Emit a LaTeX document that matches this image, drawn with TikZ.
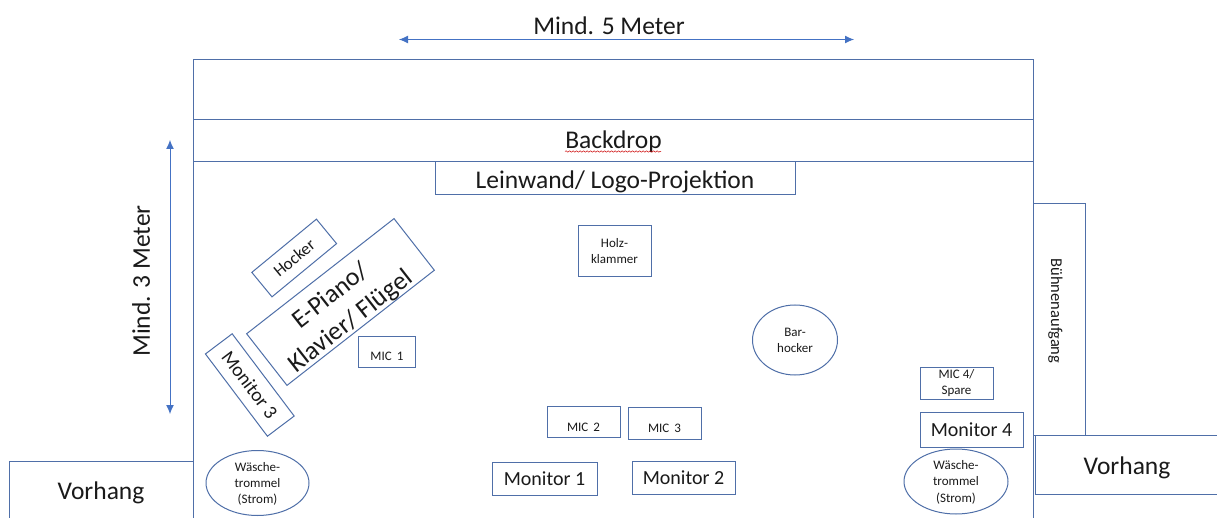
\documentclass[tikz,border=0pt]{standalone}
\usepackage{fontspec}
\setmainfont{Carlito}
\usetikzlibrary{shapes.geometric,arrows.meta,decorations.pathmorphing}
\definecolor{lineblue}{HTML}{4F6FA8}
\definecolor{arrowblue}{HTML}{4472C4}
\definecolor{inktext}{HTML}{1A1A1A}
\newcommand{\fsz}[1]{\fontsize{#1}{#1}\selectfont}
\newcommand{\dropped}[2]{\raisebox{-#1pt}[\height][\depth]{#2}}
\newcommand{\trommel}{\dropped{2}{\begin{tabular}{@{}c@{}}Wäsche-\\[3pt]trommel\\[3pt](Strom)\end{tabular}}}
\tikzset{
  x=1pt,y=-1pt,
  box/.style={draw=lineblue,line width=1pt,rectangle,inner sep=0pt,outer sep=0pt,align=center,text=inktext},
  oval/.style={draw=lineblue,line width=1pt,ellipse,inner sep=0pt,outer sep=0pt,align=center,text=inktext},
  edge line/.style={draw=lineblue,line width=1pt},
  span/.style={draw=arrowblue,line width=1pt,{Latex[length=9pt,width=8pt]}-{Latex[length=9pt,width=8pt]}},
  plain/.style={inner sep=0pt,text=inktext,align=center},
  big/.style={font=\fsz{25.5}},
  mid/.style={font=\fsz{20}},
  small/.style={font=\fsz{13}},
}
\begin{document}
\begin{tikzpicture}
\useasboundingbox[fill=white] (0,0) rectangle (1217,518);
% stage
\node[box,minimum width=840pt,minimum height=60pt] (top) at (613.5,89.5) {};
\node[box,minimum width=840pt,minimum height=42pt,big] (backdrop) at (613.5,140.5) {\dropped{1.5}{Backdrop}};
\draw[red!80!black,line width=.5pt,decorate,decoration={snake,amplitude=.7pt,segment length=3.5pt}] (565,151.5) -- (661,151.5);
\coordinate (sl) at (193.5,518);
\coordinate (sr) at (1033.5,518);
\draw[edge line] (backdrop.south west) -- (sl);
\draw[edge line] (backdrop.south east) -- (sr);
\node[box,minimum width=360pt,minimum height=33pt,big] (leinwand) at (615,178.5) {\dropped{3}{Leinwand/ Logo-Projektion}};
% side
\node[box,minimum width=52pt,minimum height=232pt] (aufgang) at (1059.5,319.5) {};
\node[plain,rotate=-90,font=\fsz{16.5}] (aufgangtext) at (1055.5,311) {Bühnenaufgang};
\coordinate (vla) at (9,518);
\coordinate (vlb) at (9,461.5);
\coordinate (vlc) at (193.5,461.5);
\draw[edge line] (vla) -- (vlb) -- (vlc);
\node[plain,big] (vl) at (101,493) {Vorhang};
\coordinate (vra) at (1217,435.5);
\coordinate (vrb) at (1035.5,435.5);
\coordinate (vrc) at (1035.5,494.5);
\coordinate (vrd) at (1217,494.5);
\draw[edge line,fill=white] (vra) -- (vrb) -- (vrc) -- (vrd);
\node[plain,big] (vr) at (1127,467.5) {Vorhang};
% dimension arrows
\coordinate (wl) at (399,39.5);
\coordinate (wr) at (854,39.5);
\draw[span] (wl) -- (wr);
\node[plain,big] (wt) at (609,26) {Mind. 5 Meter};
\coordinate (ht) at (170,140);
\coordinate (hb) at (170,414);
\draw[span] (ht) -- (hb);
\node[plain,rotate=90,big] (htx) at (141,281) {Mind. 3 Meter};
% rotated
\node[box,rotate=38,minimum width=187pt,minimum height=65.5pt] (piano) at (340.5,302) {};
\node[plain,rotate=38,font=\fsz{26}] (pianotext) at (341,309) {E-Piano/\\[6pt]Klavier/ Flügel};
\node[box,rotate=39.5,minimum width=83.7pt,minimum height=31.7pt,font=\fsz{17}] (hocker) at (294.2,258) {Hocker};
\node[box,rotate=-53,minimum width=103pt,minimum height=33.5pt,font=\fsz{19.5}] (mon3) at (249.8,385) {Monitor 3};
% small boxes
\node[box,minimum width=73pt,minimum height=51pt,small] (holz) at (614.5,251.5) {Holz-\\[3pt]klammer};
\node[oval,minimum width=85pt,minimum height=70pt,small] (bar) at (795,340) {Bar-\\[3pt]hocker};
\node[box,minimum width=57.5pt,minimum height=31pt,small] (mic1) at (387,351.5) {\dropped{5}{MIC\, 1}};
\node[box,minimum width=73pt,minimum height=31pt,small] (mic2) at (583.5,422) {\dropped{5}{MIC\, 2}};
\node[box,minimum width=73pt,minimum height=32pt,small] (mic3) at (664.5,423) {\dropped{5}{MIC\, 3}};
\node[box,minimum width=73pt,minimum height=32pt,small] (mic4) at (956.5,383) {MIC 4/\\[3pt]Spare};
\node[box,minimum width=103pt,minimum height=35pt,mid] (mon4) at (971.5,429.5) {Monitor 4};
\node[box,minimum width=105pt,minimum height=33pt,mid] (mon1) at (544.5,478.5) {Monitor 1};
\node[box,minimum width=103pt,minimum height=33pt,mid] (mon2) at (683.5,477.5) {Monitor 2};
\node[oval,minimum width=103pt,minimum height=65pt,small] (wl1) at (257.5,483) {\trommel};
\node[oval,minimum width=104pt,minimum height=65pt,small] (wl2) at (956,481.5) {\trommel};
\end{tikzpicture}
\end{document}
